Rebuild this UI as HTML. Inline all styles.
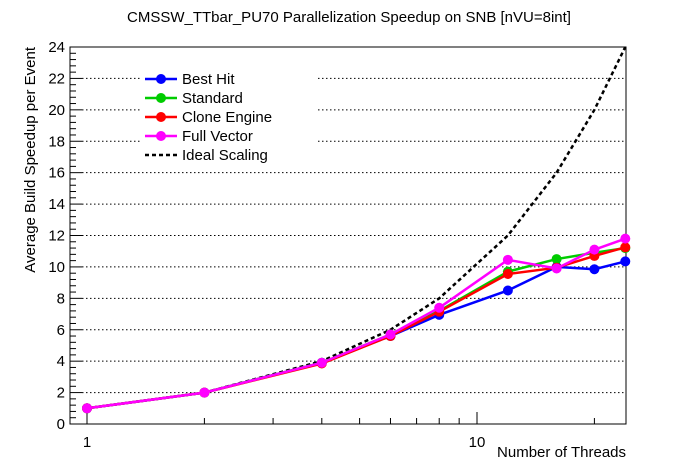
<!DOCTYPE html><html><head><style>body{margin:0;background:#fff}svg{display:block}text{font-family:"Liberation Sans",sans-serif}</style></head><body>
<svg width="696" height="472" xmlns="http://www.w3.org/2000/svg">
<rect width="696" height="472" fill="#fff"/>
<text x="349" y="22" font-size="15" text-anchor="middle">CMSSW_TTbar_PU70 Parallelization Speedup on SNB [nVU=8int]</text>
<g id="grid" stroke="#000" stroke-dasharray="1.5,2.5" stroke-width="1"></g>
<rect x="140" y="70" width="176" height="100" fill="#fff"/>
<g id="axes" stroke="#000" stroke-width="1" fill="none"></g>
<g id="lab" font-size="15"></g>
<g id="data"></g>
<g font-size="15">
<text x="182" y="84">Best Hit</text><text x="182" y="103">Standard</text><text x="182" y="122">Clone Engine</text><text x="182" y="141">Full Vector</text><text x="182" y="160">Ideal Scaling</text>
<text x="626" y="457" text-anchor="end">Number of Threads</text>
<text transform="translate(35,47) rotate(-90)" text-anchor="end">Average Build Speedup per Event</text>
</g>
<g stroke-width="2.5">
<line x1="145" y1="79" x2="177" y2="79" stroke="#00f"/><circle cx="161" cy="79" r="5" fill="#00f"/>
<line x1="145" y1="98" x2="177" y2="98" stroke="#0c0"/><circle cx="161" cy="98" r="5" fill="#0c0"/>
<line x1="145" y1="117" x2="177" y2="117" stroke="#f00"/><circle cx="161" cy="117" r="5" fill="#f00"/>
<line x1="145" y1="136" x2="177" y2="136" stroke="#f0f"/><circle cx="161" cy="136" r="5" fill="#f0f"/>
<line x1="145" y1="155" x2="177" y2="155" stroke="#000" stroke-dasharray="4,3"/>
</g>
<script>
const X=v=>87+Math.log10(v)*390, Y=v=>424-v*377/24;
const ns="http://www.w3.org/2000/svg";
function el(p,t,a,txt){const e=document.createElementNS(ns,t);for(const k in a)e.setAttribute(k,a[k]);if(txt!=null)e.textContent=txt;p.appendChild(e);return e;}
const g=document.getElementById('grid'),ax=document.getElementById('axes'),lb=document.getElementById('lab'),d=document.getElementById('data');
for(let v=2;v<=22;v+=2)el(g,'line',{x1:82,x2:626,y1:Y(v),y2:Y(v)});
el(ax,'rect',{x:70,y:47,width:556,height:377});
for(let i=0;i<=60;i++){const v=i*0.4,y=Y(v),L=(i%5==0)?12:6;el(ax,'line',{x1:70,x2:70+L,y1:y,y2:y});}
for(let v=0;v<=24;v+=2)el(lb,'text',{x:65,y:Y(v)+5,'text-anchor':'end'},v);
[1,2,3,4,5,6,7,8,9,10,20].forEach(v=>{const x=X(v),L=(v==1||v==10)?12:6;el(ax,'line',{x1:x,x2:x,y1:424,y2:424-L});});
el(lb,'text',{x:X(1),y:447,'text-anchor':'middle'},'1');el(lb,'text',{x:X(10),y:447,'text-anchor':'middle'},'10');
const xs=[1,2,4,6,8,12,16,20,24];
let p='';xs.forEach((x,i)=>p+=(i?'L':'M')+X(x)+','+Y(x));
el(d,'path',{d:p,stroke:'#000','stroke-width':2.5,fill:'none','stroke-dasharray':'4,3'});
const S=[['#00f',[1,2,3.9,5.6,6.95,8.5,10.0,9.85,10.35]],['#0c0',[1,2,3.9,5.7,7.2,9.7,10.5,10.9,11.2]],['#f00',[1,2,3.85,5.6,7.15,9.55,9.95,10.7,11.25]],['#f0f',[1,2,3.9,5.7,7.4,10.45,9.9,11.1,11.8]]];
S.forEach(([c,ys])=>{let q='';xs.forEach((x,i)=>q+=(i?'L':'M')+X(x)+','+Y(ys[i]));el(d,'path',{d:q,stroke:c,'stroke-width':2.5,fill:'none'});xs.forEach((x,i)=>el(d,'circle',{cx:X(x),cy:Y(ys[i]),r:5,fill:c}));});
</script>
</svg></body></html>
